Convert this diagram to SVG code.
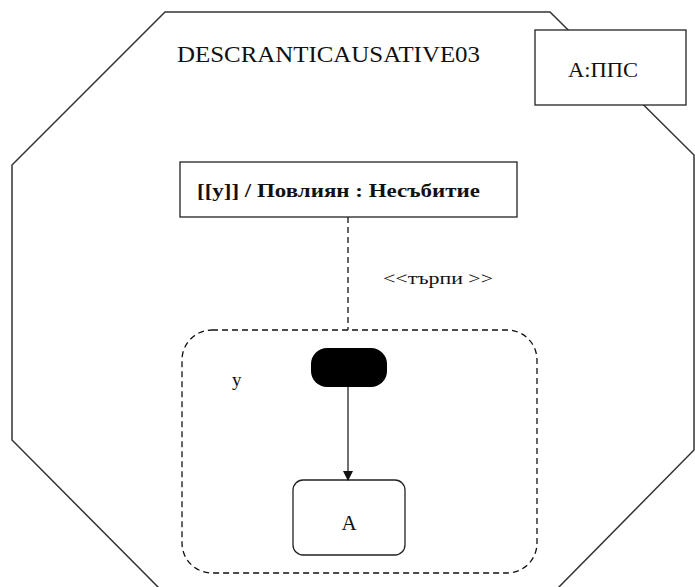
<svg xmlns="http://www.w3.org/2000/svg" width="695" height="587" viewBox="0 0 695 587">
  <style>
    .frame { fill: #ffffff; stroke: #333333; stroke-width: 1.5; }
    .box { fill: #ffffff; stroke: #222222; stroke-width: 1.3; }
    .dash { fill: none; stroke: #111111; stroke-width: 1.3; stroke-dasharray: 6 4; }
    .line { fill: none; stroke: #111111; stroke-width: 1.2; }
    .t { font-family: "Liberation Serif", "Times New Roman", serif; fill: #111111; }
  </style>
  <defs>
    <marker id="arrow" markerWidth="10" markerHeight="10" refX="9" refY="5" orient="auto" markerUnits="userSpaceOnUse">
      <path d="M0,0 L10,5 L0,10 Z" fill="#111111"/>
    </marker>
  </defs>

  <rect width="695" height="587" fill="#ffffff"/>

  <!-- outer frame -->
  <g id="frame">
    <polygon class="frame" points="165,12 550,12 694,155 694,450 557,589 160,589 12,440 12,165"/>
    <text class="t" x="177" y="62" font-size="23" textLength="303" lengthAdjust="spacingAndGlyphs">DESCRANTICAUSATIVE03</text>
  </g>

  <g id="actor">
    <rect class="box" x="535" y="30" width="151" height="75"/>
    <text class="t" x="568" y="77" font-size="20" textLength="70" lengthAdjust="spacingAndGlyphs">А:ППС</text>
  </g>

  <g id="event">
    <rect class="box" x="180" y="162" width="337" height="55"/>
    <text class="t" x="197" y="197" font-size="19" font-weight="bold" textLength="283" lengthAdjust="spacingAndGlyphs">[[у]] / Повлиян : Несъбитие</text>
  </g>

  <g id="region">
    <rect class="dash" x="182" y="330" width="355" height="243" rx="30" ry="30"/>
    <text class="t" x="232" y="386" font-size="19">у</text>
  </g>

  <g id="initial">
    <rect x="311" y="348" width="76" height="39" rx="16" ry="16" fill="#000000"/>
  </g>

  <g id="stateA">
    <rect class="box" x="293" y="480" width="112" height="75" rx="10" ry="10"/>
    <text class="t" x="349" y="530" font-size="21" text-anchor="middle">A</text>
  </g>

  <g id="connectors">
    <line class="dash" x1="348" y1="217" x2="348" y2="330"/>
    <text class="t" x="383" y="284" font-size="16" textLength="110" lengthAdjust="spacingAndGlyphs">&lt;&lt;търпи &gt;&gt;</text>
    <line class="line" x1="348" y1="387" x2="348" y2="480" marker-end="url(#arrow)"/>
  </g>
</svg>
